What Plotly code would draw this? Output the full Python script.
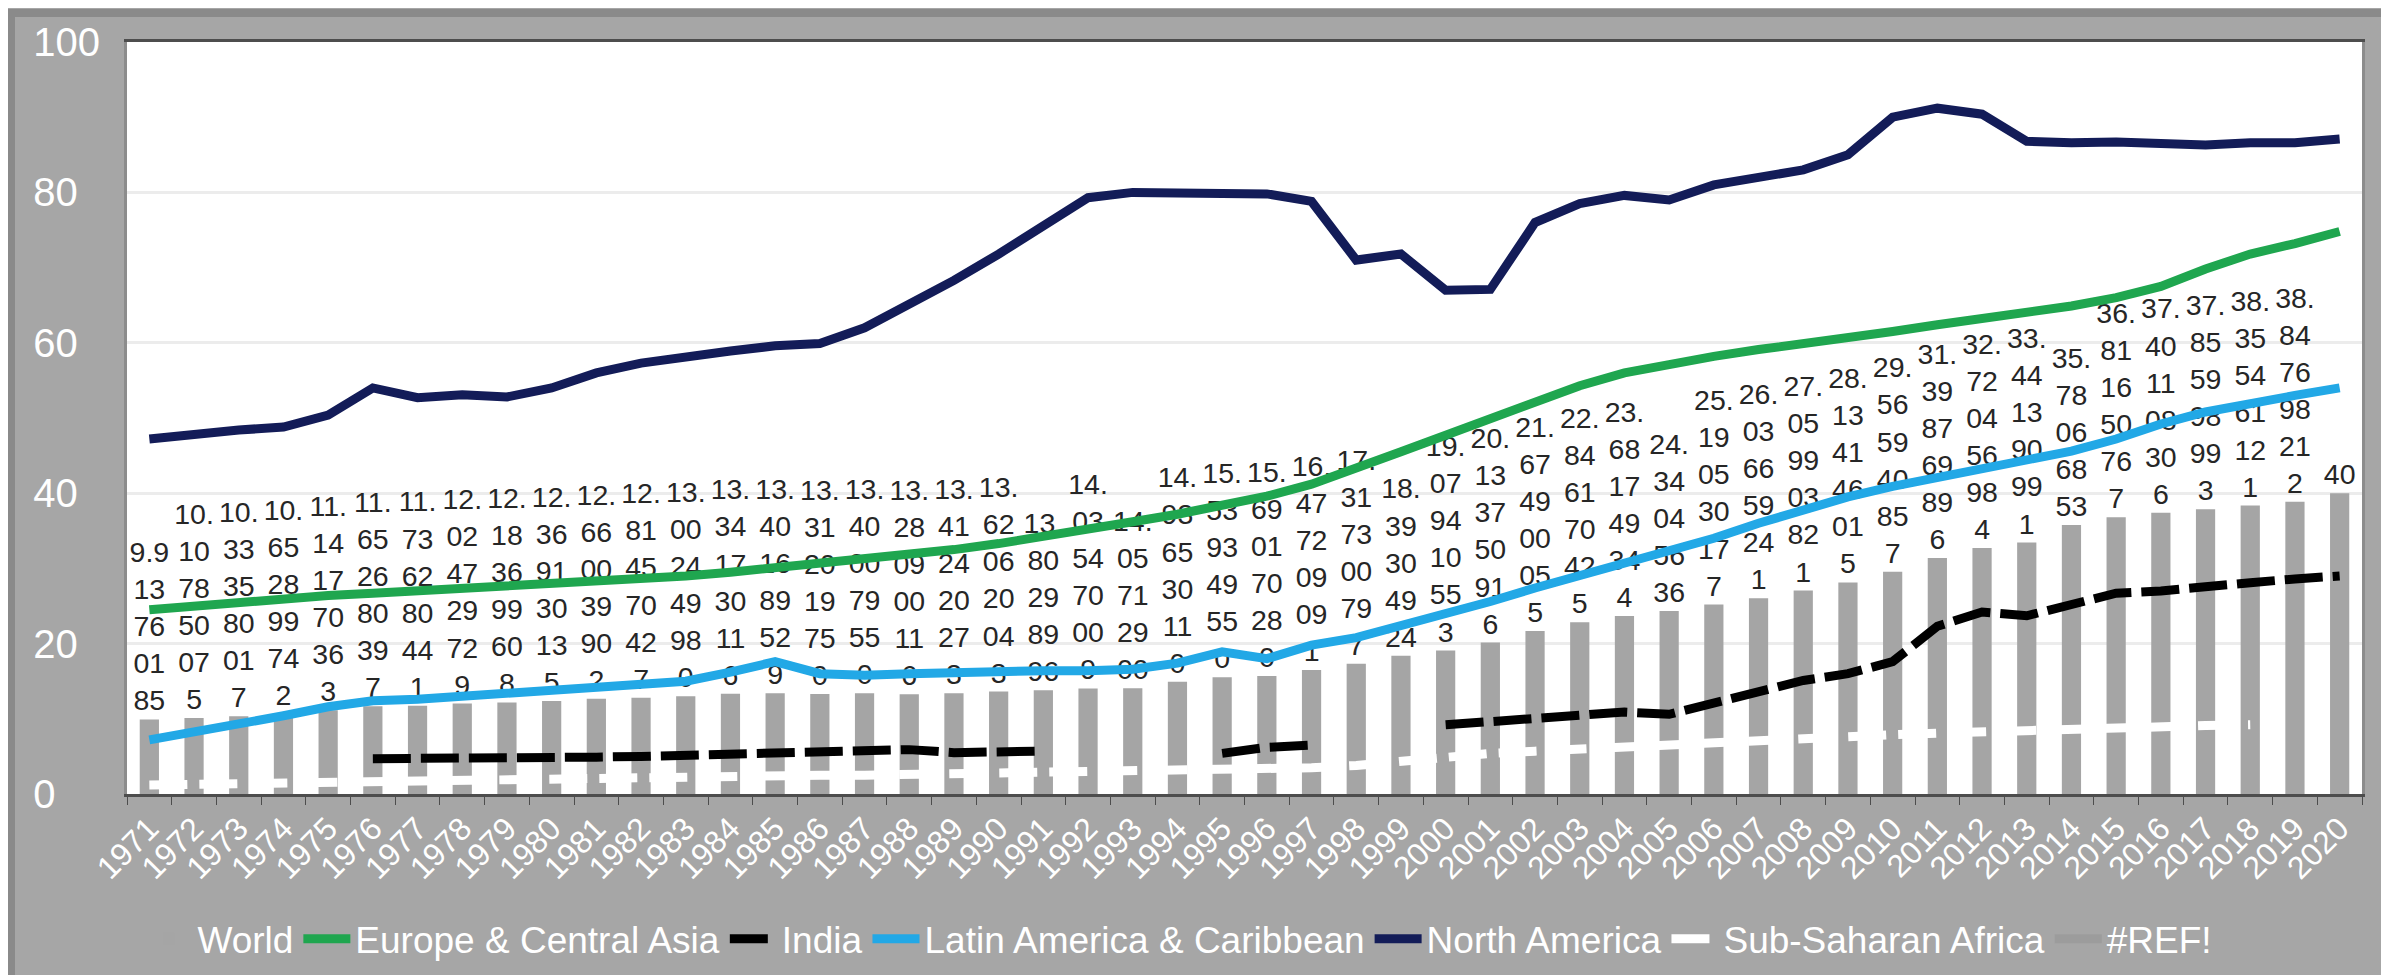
import plotly.graph_objects as go

years = [str(y) for y in range(1971, 2021)]

# World bar values as displayed in the data labels
world_labels = [
    "9.913760185", "10.107850075", "10.333580017", "10.652899742", "11.141770363",
    "11.652680397", "11.736280441", "12.024729729", "12.183699608", "12.369130135",
    "12.660039902", "12.814570427", "13.002449980", "13.341730116", "13.401689529",
    "13.312019750", "13.400079550", "13.280900116", "13.412420273", "13.620620043",
    "13.80298996", "14.035470009", "14.05712900", "14.936530110", "15.539349550",
    "15.690170280", "16.477209091", "17.317300797", "18.39304924", "19.079410553",
    "20.133750916", "21.674900055", "22.846170425", "23.681749344", "24.34045636",
    "25.190530177", "26.036659241", "27.059903821", "28.134146015", "29.565940857",
    "31.398769896", "32.720456984", "33.441390991", "35.78066853", "36.811650767",
    "37.401108306", "37.855998993", "38.355461121", "38.847698212", "40",
]
world = [float(s) for s in world_labels]

europe = [24.5, 25.0, 25.5, 26.0, 26.4, 26.7, 27.0, 27.4, 27.7, 28.0,
          28.4, 28.8, 29.0, 29.5, 30.1, 30.6, 31.2, 31.8, 32.5, 33.3,
          34.2, 35.2, 36.2, 37.2, 38.3, 39.6, 41.2, 43.2, 45.5, 47.7,
          49.9, 52.2, 54.3, 56.0, 57.2, 58.2, 59.1, 59.8, 60.6, 61.5,
          62.4, 63.2, 64.0, 64.9, 66.0, 67.5, 69.8, 71.8, 73.2, 74.8]

india = [None, None, None, None, None, 4.7, 4.7, 4.8, 4.8, 4.9,
         4.9, 5.0, 5.2, 5.4, 5.6, 5.7, 5.7, 5.9, 5.5, 5.6,
         5.7, None, None, None, 5.4, 6.2, 6.5, None, None, 9.2,
         9.7, 10.2, 10.6, 10.9, 10.6, 12.0, 13.4, 15.1, 16.0, 17.6,
         22.3, 24.2, 23.7, 25.3, 26.7, 27.0, 27.4, 28.1, 28.6, 29.0]

latin = [7.2, 8.2, 9.2, 10.4, 11.6, 12.4, 12.6, 13.0, 13.4, 13.8,
         14.2, 14.5, 15.0, 16.2, 17.6, 16.0, 15.8, 16.0, 16.2, 16.3,
         16.4, 16.4, 16.6, 17.4, 18.9, 18.0, 19.8, 20.8, 22.3, 23.8,
         25.6, 27.4, 29.0, 30.5, 32.1, 34.0, 36.0, 37.8, 39.5, 40.9,
         42.1, 43.3, 44.5, 45.6, 47.2, 49.2, 50.8, 52.0, 53.0, 54.0]

north_america = [47.2, 47.9, 48.4, 48.8, 50.4, 54.0, 52.7, 53.1, 52.8, 54.0,
                 56.0, 57.3, 58.2, 58.9, 59.6, 59.9, 62.0, 65.0, 68.3, 71.8,
                 75.5, 79.3, 80.0, 80.0, 80.0, 79.8, 78.8, 71.0, 71.8, 67.0,
                 67.1, 76.0, 78.5, 79.6, 79.0, 81.0, 82.0, 83.0, 85.0, 90.0,
                 91.2, 90.4, 86.8, 86.6, 86.7, 86.6, 86.3, 86.6, 86.6, 87.1]

ssa = [1.2, 1.3, 1.3, 1.4, 1.5, 1.6, 1.7, 1.8, 1.9, 2.0,
       2.1, 2.2, 2.3, 2.3, 2.4, 2.5, 2.5, 2.6, 2.6, 2.7,
       2.7, 2.8, 2.9, 3.0, 3.1, 3.3, 3.5, 3.8, 4.3, 5.0,
       5.4, 5.7, 6.0, 6.2, 6.5, 6.8, 7.1, 7.4, 7.6, 7.9,
       8.1, 8.3, 8.5, 8.7, 8.9, 9.0, 9.1, 9.2, None, None]

ref_err = [None] * len(years)

y_ticks = [0, 20, 40, 60, 80, 100]
NB = "\u00a0"
y_ticktext = ["0" + NB * 4, "20" + NB * 2, "40" + NB * 2, "60" + NB * 2, "80" + NB * 2, "100"]


def wrap_label(s):
    parts = [s[:3]]
    rest = s[3:]
    while rest:
        parts.append(rest[:2])
        rest = rest[2:]
    return "<br>".join(parts)


FONT = "Liberation Sans, Arial, sans-serif"

fig = go.Figure()
fig.add_trace(go.Bar(
    x=years, y=world, name="World",
    marker=dict(color="#a5a5a5", line=dict(width=0)),
    text=[wrap_label(s) for s in world_labels],
    textposition="outside", textangle=0, constraintext="none",
    cliponaxis=False,
    textfont=dict(family=FONT, size=28.5, color="#262626"),
))

line_specs = [
    ("Europe & Central Asia", europe, "#1fa64f", "solid"),
    ("India", india, "#000000", "38px,10px"),
    ("Latin America & Caribbean", latin, "#22a8e6", "solid"),
    ("North America", north_america, "#131c58", "solid"),
    ("Sub-Saharan Africa", ssa, "#ffffff", "38px,12px"),
    ("#REF!", ref_err, "#9c9c9c", "solid"),
]
for name, vals, color, dash in line_specs:
    fig.add_trace(go.Scatter(
        x=years, y=vals, name=name, mode="lines",
        line=dict(color=color, width=9, dash=dash),
        connectgaps=False,
    ))

W, H = 2389, 975
ml, mr, mt, mb = 119, 35, 32, 189
pw, ph = W - ml - mr, H - mt - mb

fig.update_layout(
    width=W, height=H, autosize=False,
    margin=dict(l=ml, r=mr, t=mt, b=mb, pad=0),
    paper_bgcolor="#a6a6a6", plot_bgcolor="#ffffff",
    font=dict(family=FONT, color="#ffffff"),
    bargap=0.57,
    showlegend=True,
    legend=dict(
        orientation="h", x=0.006, xanchor="left", y=-0.193, yanchor="middle",
        font=dict(family=FONT, size=37, color="#ffffff"),
        bgcolor="rgba(0,0,0,0)", itemwidth=47,
    ),
    shapes=[dict(
        type="rect", xref="paper", yref="paper",
        x0=-(ml - 3) / pw, x1=1 + (mr - 4) / pw,
        y0=-(mb - 3) / ph, y1=1 + (mt - 3) / ph,
        line=dict(color="#8a8a8a", width=8), fillcolor="rgba(0,0,0,0)",
        layer="below",
    )],
)

fig.update_xaxes(
    type="category", tickmode="array", tickvals=years, ticktext=years,
    tickangle=-45, tickfont=dict(family=FONT, size=32, color="#ffffff"),
    ticks="outside", tickson="boundaries", ticklen=8, tickcolor="#4d4d4d",
    showline=True, linecolor="#4d4d4d", linewidth=3, mirror=True,
    showgrid=False, range=[-0.5, 49.5],
)
fig.update_yaxes(
    range=[0, 100], tickmode="array", tickvals=y_ticks, ticktext=y_ticktext,
    tickfont=dict(family=FONT, size=40, color="#ffffff"),
    ticklabelstandoff=16,
    showgrid=True, gridcolor="#ececec", gridwidth=3,
    zeroline=False, showline=True, linecolor="#8c8c8c", linewidth=3, mirror=True,
    ticks="",
)

fig.write_html("out.html")
